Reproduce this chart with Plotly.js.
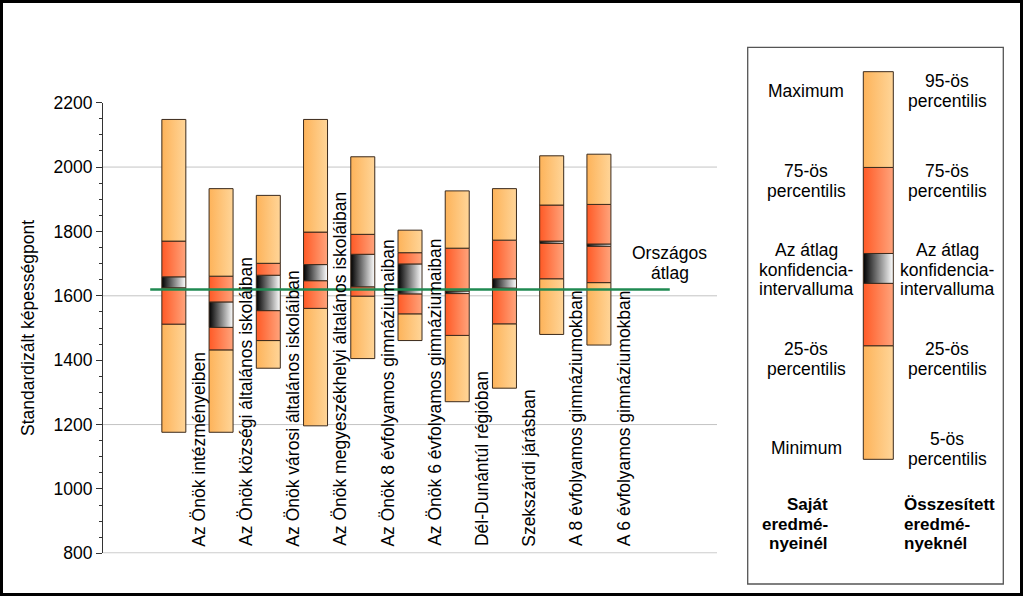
<!DOCTYPE html>
<html>
<head>
<meta charset="utf-8">
<script src="https://cdn.plot.ly/plotly-3.0.1.min.js"></script>
<style>
html,body{margin:0;padding:0;background:#fff;}
#chart{width:1024px;height:597px;}
</style>
</head>
<body>
<div id="chart"></div>
<script>
// ---- data ----
const categories = [
  "Az Önök intézményeiben",
  "Az Önök községi általános iskoláiban",
  "Az Önök városi általános iskoláiban",
  "Az Önök megyeszékhelyi általános iskoláiban",
  "Az Önök 8 évfolyamos gimnáziumaiban",
  "Az Önök 6 évfolyamos gimnáziumaiban",
  "Dél-Dunántúl régióban",
  "Szekszárdi járásban",
  "A 8 évfolyamos gimnáziumokban",
  "A 6 évfolyamos gimnáziumokban"
];
const minVals = [1176, 1176, 1375, 1196, 1405, 1461, 1271, 1313, 1480, 1447];
const q1Vals  = [1512, 1432, 1461, 1561, 1599, 1544, 1477, 1513, 1653, 1641];
const ciLow   = [1625, 1502, 1554, 1647, 1628, 1606, 1607, 1624, 1763, 1754];
const ciHigh  = [1659, 1581, 1664, 1697, 1729, 1699, 1615, 1653, 1770, 1761];
const q3Vals  = [1770, 1661, 1701, 1798, 1791, 1734, 1748, 1773, 1882, 1884];
const maxVals = [2148, 1933, 1912, 2148, 2032, 1804, 1926, 1933, 2035, 2040];
const nationalAverage = 1620;
const nationalLabel = ["Országos", "átlag"];
const yAxisTitle = "Standardizált képességpont";
const gridValues = [1200, 1600, 2000];
const baseValue = 800;
// schematic sample bar of the key (relative positions, 0..100)
const legendSample = [0, 29.3, 45.4, 53.1, 75.3, 100];
const legendLeft = [
  ["Maximum"],
  ["75-ös", "percentilis"],
  ["Az átlag", "konfidencia-", "intervalluma"],
  ["25-ös", "percentilis"],
  ["Minimum"]
];
const legendRight = [
  ["95-ös", "percentilis"],
  ["75-ös", "percentilis"],
  ["Az átlag", "konfidencia-", "intervalluma"],
  ["25-ös", "percentilis"],
  ["5-ös", "percentilis"]
];
const legendLeftFoot = ["Saját", "eredmé-", "nyeinél"];
const legendRightFoot = ["Összesített", "eredmé-", "nyeknél"];

// ---- helpers ----
const W = 1024, H = 597;
const px = x => x / W;
const py = y => 1 - y / H;
const FONT = "Liberation Sans, Arial, sans-serif";
const ORANGE = ["#FDB35A", "#FFD598"];
const RED = ["#FF5A26", "#FFA47C"];
const CI = ["#000000", "#FFFFFF"];
const EDGE = "#3b2a1c";

function segment(xc, hw, lo, hi, cols, xa, ya) {
  return {
    type: "scatter", mode: "lines",
    x: [xc - hw, xc + hw, xc + hw, xc - hw, xc - hw],
    y: [lo, lo, hi, hi, lo],
    fill: "toself",
    fillgradient: {type: "horizontal", colorscale: [[0, cols[0]], [1, cols[1]]]},
    line: {color: EDGE, width: 1},
    xaxis: xa, yaxis: ya,
    hoverinfo: "skip", showlegend: false
  };
}
function boxTraces(xc, hw, v, xa, ya) {
  const cols = [ORANGE, RED, CI, RED, ORANGE];
  return cols.map((c, k) => segment(xc, hw, v[k], v[k + 1], c, xa, ya));
}

const traces = [];
categories.forEach((c, i) => {
  const v = [minVals[i], q1Vals[i], ciLow[i], ciHigh[i], q3Vals[i], maxVals[i]];
  traces.push(...boxTraces(i, 0.254, v, "x", "y"));
});
traces.push(...boxTraces(0, 0.5, legendSample, "x2", "y2"));
traces.push({
  type: "scatter", mode: "lines",
  x: [-0.5, categories.length + 0.5],
  y: [nationalAverage, nationalAverage],
  line: {color: "#1f8a52", width: 2.5},
  hoverinfo: "skip", showlegend: false, xaxis: "x", yaxis: "y"
});

const annotations = [];
categories.forEach((c, i) => {
  annotations.push({
    x: i + 0.53, y: baseValue, xref: "x", yref: "y",
    text: c, textangle: -90, showarrow: false,
    xanchor: "center", yanchor: "bottom", yshift: 5,
    font: {family: FONT, size: 17.5, color: "#000"}
  });
});
nationalLabel.forEach((t, k) => {
  annotations.push({
    x: categories.length + 0.5, xref: "x", y: py(253 + k * 19.5), yref: "paper",
    text: t, showarrow: false, xanchor: "center", yanchor: "middle",
    font: {family: FONT, size: 17.5, color: "#000"}
  });
});

const PITCH = 19.7;
function block(lines, xc, cy, anchor, bold) {
  const n = lines.length;
  lines.forEach((t, k) => {
    annotations.push({
      x: px(xc), y: py(cy + (k - (n - 1) / 2) * PITCH), xref: "paper", yref: "paper",
      text: bold ? "<b>" + t + "</b>" : t, showarrow: false,
      xanchor: anchor, yanchor: "middle",
      font: {family: FONT, size: bold ? 17 : 17.5, color: "#000"}
    });
  });
}
const blockCentersLeft = [90.8, 181, 269.5, 359, 448.4];
const blockCentersRight = [91, 181, 269.5, 359, 449];
legendLeft.forEach((b, k) => block(b, 806, blockCentersLeft[k], "center", false));
legendRight.forEach((b, k) => block(b, 947, blockCentersRight[k], "center", false));
block(legendLeftFoot, 830, 524, "right", true);
block(legendRightFoot, 902, 524, "left", true);

const shapes = [];
gridValues.forEach(g => shapes.push({
  type: "line", xref: "x domain", yref: "y", x0: 0, x1: 1, y0: g, y1: g,
  line: {color: "#c4c4c4", width: 1}, layer: "below"
}));
shapes.push({
  type: "line", xref: "x domain", yref: "y", x0: 0, x1: 1, y0: baseValue, y1: baseValue,
  line: {color: "#cccccc", width: 2}, layer: "below"
});
shapes.push({
  type: "rect", xref: "paper", yref: "paper",
  x0: px(747.7), x1: px(1003.3), y0: py(584), y1: py(47.3),
  line: {color: "#555555", width: 1.3}, layer: "below"
});
shapes.push({
  type: "rect", xref: "paper", yref: "paper",
  x0: px(1.5), x1: px(1021.5), y0: py(594.5), y1: py(1.5),
  line: {color: "#000000", width: 3}
});

const layout = {
  width: W, height: H,
  margin: {l: 0, r: 0, t: 0, b: 0},
  paper_bgcolor: "#ffffff", plot_bgcolor: "rgba(0,0,0,0)",
  font: {family: FONT, size: 17.5, color: "#000"},
  showlegend: false,
  xaxis: {domain: [px(103), px(717)], range: [-1.5, categories.length + 1.5], visible: false, fixedrange: true},
  yaxis: {
    domain: [py(553.3), py(102.7)], range: [800, 2200],
    tick0: 800, dtick: 200, ticks: "outside", ticklen: 6, tickwidth: 1, tickcolor: "#333",
    showline: true, linecolor: "#333", linewidth: 1,
    showgrid: false, zeroline: false,
    minor: {dtick: 50, ticks: "outside", ticklen: 3, tickwidth: 1, tickcolor: "#333", showgrid: false},
    tickfont: {family: FONT, size: 17.5, color: "#000"},
    title: {text: yAxisTitle, font: {family: FONT, size: 17.5, color: "#000"}, standoff: 14},
    automargin: false, fixedrange: true
  },
  xaxis2: {domain: [px(853.3), px(903.3)], range: [-5 / 6, 5 / 6], visible: false, anchor: "y2", fixedrange: true},
  yaxis2: {domain: [py(478.7), py(52.3)], range: [-5, 105], visible: false, anchor: "x2", fixedrange: true},
  shapes: shapes,
  annotations: annotations
};

Plotly.newPlot("chart", traces, layout, {staticPlot: true, displayModeBar: false});
</script>
</body>
</html>
